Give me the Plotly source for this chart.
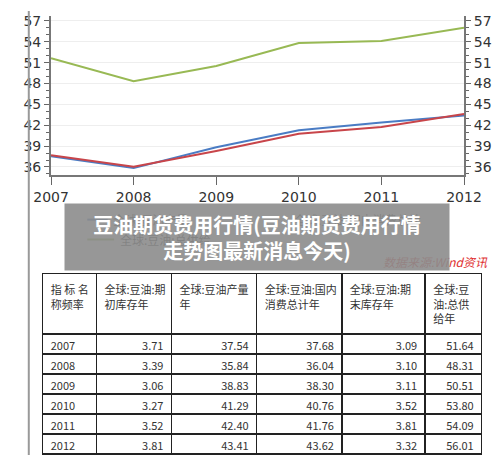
import plotly.graph_objects as go

years = [2007, 2008, 2009, 2010, 2011, 2012]
begin_stock = [3.71, 3.39, 3.06, 3.27, 3.52, 3.81]
production = [37.54, 35.84, 38.83, 41.29, 42.40, 43.41]
consumption = [37.68, 36.04, 38.30, 40.76, 41.76, 43.62]
end_stock = [3.09, 3.10, 3.11, 3.52, 3.81, 3.32]
supply = [51.64, 48.31, 50.51, 53.80, 54.09, 56.01]

headers = ["指 标 名<br>称频率", "全球:豆油:期<br>初库存年", "全球:豆油产量<br>年",
           "全球:豆油:国内<br>消费总计年", "全球:豆油:期<br>末库存年", "全球:豆<br>油:总供<br>给年"]

W, H = 500, 455
px = lambda v: v / W
py = lambda v: 1 - v / H
font = "Noto Sans CJK SC"

fig = go.Figure()
fig.add_trace(go.Scatter(x=years, y=production, mode="lines", line=dict(color="#4a7cc4", width=2), showlegend=False))
fig.add_trace(go.Scatter(x=years, y=consumption, mode="lines", line=dict(color="#c8454a", width=2), showlegend=False))
fig.add_trace(go.Scatter(x=years, y=supply, mode="lines", line=dict(color="#98b954", width=2), showlegend=False, yaxis="y2"))

fig.add_trace(go.Table(
    domain=dict(x=[px(18), px(492)], y=[py(455), py(264)]),
    columnwidth=[58, 81, 92, 92, 90, 61],
    header=dict(values=headers, align="left", height=20, fill_color="white",
                line=dict(color="#222", width=1.5), font=dict(family=font, size=11, color="#333")),
    cells=dict(values=[[str(y) for y in years],
                       [f"{v:.2f}" for v in begin_stock], [f"{v:.2f}" for v in production],
                       [f"{v:.2f}" for v in consumption], [f"{v:.2f}" for v in end_stock],
                       [f"{v:.2f}" for v in supply]],
               align=["left", "right", "right", "right", "right", "right"], height=20,
               fill_color="white", line=dict(color="#222", width=1.5),
               font=dict(family=font, size=11, color="#333")),
))

yax = dict(range=[34.86, 57.7], domain=[py(165), py(5)], tickvals=[36, 39, 42, 45, 48, 51, 54, 57],
           ticks="outside", ticklen=5, tickcolor="#666", showline=True, linecolor="#777", linewidth=2,
           tickfont=dict(family="DejaVu Sans", size=14, color="#333"),
           minor=dict(ticks="outside", dtick=1, ticklen=3, tickcolor="#666", showgrid=False))
fig.update_layout(
    width=W, height=H, margin=dict(l=0, r=0, t=0, b=0),
    paper_bgcolor="white", plot_bgcolor="white",
    xaxis=dict(domain=[px(27), px(472)], range=[2007, 2012], tickvals=years, ticks="outside", ticklen=8,
               tickcolor="#666", showline=True, linecolor="#777", linewidth=2, showgrid=False,
               tickfont=dict(family="DejaVu Sans", size=14, color="#333")),
    yaxis=dict(**yax, showgrid=True, gridcolor="#eeeeee"),
    yaxis2=dict(**yax, overlaying="y", side="right", showgrid=False),
)

shapes = [
    dict(type="line", xref="paper", yref="paper", x0=px(66), x1=px(88), y0=py(210), y1=py(210), line=dict(color="#4a7cc4", width=2)),
    dict(type="line", xref="paper", yref="paper", x0=px(66), x1=px(95), y0=py(230), y1=py(230), line=dict(color="#98b954", width=2)),
    dict(type="line", xref="paper", yref="paper", x0=px(3), x1=px(3), y0=0, y1=1, line=dict(color="#999", width=2)),
]
fig.update_layout(shapes=shapes)

annos = [
    dict(x=px(92), y=py(210), text="全球:豆油产量", xanchor="left", font=dict(family=font, size=12, color="#333")),
    dict(x=px(428), y=py(210), text="全球:豆油:国内消费总计", xanchor="right", font=dict(family=font, size=12, color="#333")),
    dict(x=px(99), y=py(230), text="全球:豆油:总供给", xanchor="left", font=dict(family=font, size=12, color="#333")),
    dict(x=px(500), y=py(252), text="<i>数据来源:Wind资讯</i>", xanchor="right", font=dict(family=font, size=12, color="#e03030")),
    dict(x=px(249), y=py(227), text="<b>豆油期货费用行情(豆油期货费用行情<br>走势图最新消息今天)</b>",
         width=382, height=64, bgcolor="rgba(140,140,140,0.9)", font=dict(family=font, size=20, color="white")),
]
for a in annos:
    a.update(xref="paper", yref="paper", showarrow=False)
fig.update_layout(annotations=annos)

fig.write_html("out.html")
